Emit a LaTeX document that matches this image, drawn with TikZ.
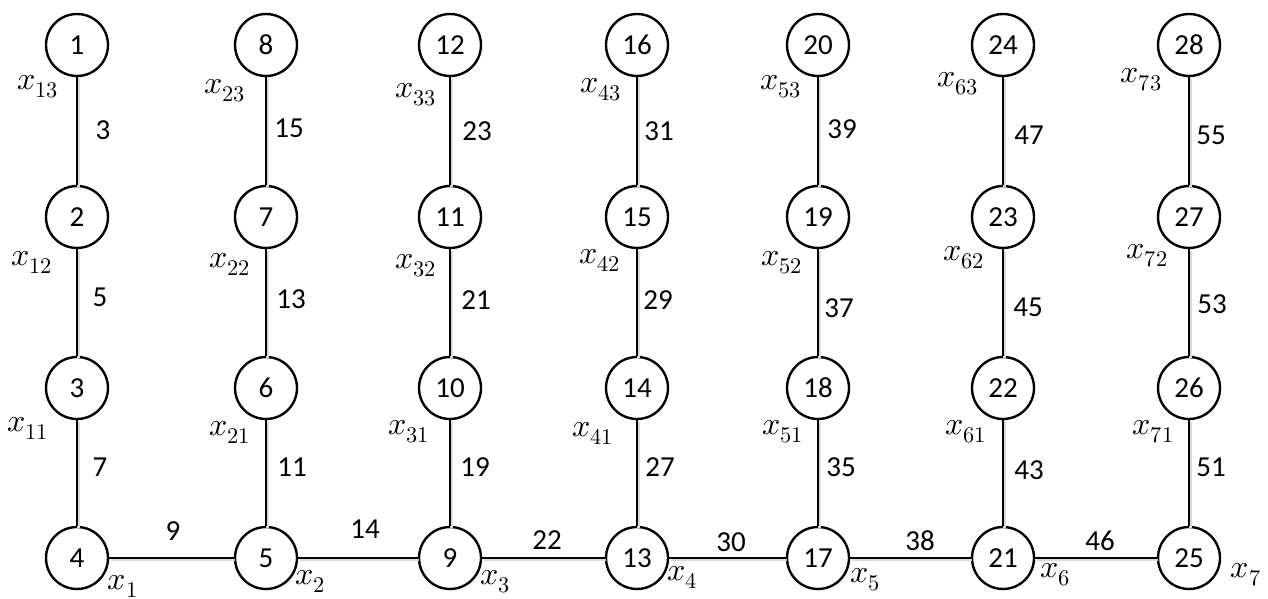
\documentclass[tikz,border=0pt]{standalone}
\usepackage{fontspec}
\usepackage{unicode-math}
\setmainfont{Carlito}
\setmathfont{Latin Modern Math}
\tikzset{
  vtx/.style={circle,draw=black,line width=2.4pt,minimum size=62pt,inner sep=0pt,fill=white,font=\fontsize{29}{34}\selectfont},
  wt/.style={font=\fontsize{29}{34}\selectfont,inner sep=0pt},
  vl/.style={font=\fontsize{32}{38}\selectfont,inner sep=0pt},
  edge/.style={draw=black,line width=2.4pt,preaction={draw=gray!30,line width=2.5pt,transform canvas={shift={(1.5pt,-1.8pt)}}}}
}
\begin{document}
\begin{tikzpicture}[x=1pt,y=-1pt]
\useasboundingbox (0,0) rectangle (1268,599);
% columns
\foreach \a/\b/\c/\d/\x in {1/2/3/4/77, 8/7/6/5/266, 12/11/10/9/450, 16/15/14/13/637, 20/19/18/17/818, 24/23/22/21/1003, 28/27/26/25/1189}{
  \node[vtx] (n\a) at (\x,45) {\a};
  \node[vtx] (n\b) at (\x,217) {\b};
  \node[vtx] (n\c) at (\x,388) {\c};
  \node[vtx] (n\d) at (\x,558) {\d};
}
% edges
\foreach \a/\b in {1/2,2/3,3/4, 8/7,7/6,6/5, 12/11,11/10,10/9, 16/15,15/14,14/13, 20/19,19/18,18/17, 24/23,23/22,22/21, 28/27,27/26,26/25, 4/5,5/9,9/13,13/17,17/21,21/25}{
  \draw[edge] (n\a) -- (n\b);
}
% weights (vertical edges)
\node[wt] (w3)  at (103,130) {3};
\node[wt] (w5)  at (100,297) {5};
\node[wt] (w7)  at (100,467) {7};
\node[wt] (w15) at (289,128) {15};
\node[wt] (w13) at (291,299) {13};
\node[wt] (w11) at (292,467) {11};
\node[wt] (w23) at (477,131) {23};
\node[wt] (w21) at (476,300) {21};
\node[wt] (w19) at (475,467) {19};
\node[wt] (w31) at (659,131) {31};
\node[wt] (w29) at (658,300) {29};
\node[wt] (w27) at (660,467) {27};
\node[wt] (w39) at (842,129) {39};
\node[wt] (w37) at (839,308) {37};
\node[wt] (w35) at (841,467) {35};
\node[wt] (w47) at (1029,135) {47};
\node[wt] (w45) at (1028,307) {45};
\node[wt] (w43) at (1029,470) {43};
\node[wt] (w55) at (1211,135) {55};
\node[wt] (w53) at (1212,304) {53};
\node[wt] (w51) at (1211,467) {51};
% weights (horizontal edges)
\node[wt] (w9)  at (173,531) {9};
\node[wt] (w14) at (365,529) {14};
\node[wt] (w22) at (547,540) {22};
\node[wt] (w30) at (731,542) {30};
\node[wt] (w38) at (920,541) {38};
\node[wt] (w46) at (1100,541) {46};
% variable labels
\node[vl] (x13) at (38,87) {$x_{13}$};
\node[vl] (x12) at (32,262) {$x_{12}$};
\node[vl] (x11) at (28,428) {$x_{11}$};
\node[vl] (x23) at (225,91) {$x_{23}$};
\node[vl] (x22) at (230,264) {$x_{22}$};
\node[vl] (x21) at (230,432) {$x_{21}$};
\node[vl] (x33) at (416,95) {$x_{33}$};
\node[vl] (x32) at (416,266) {$x_{32}$};
\node[vl] (x31) at (409,432) {$x_{31}$};
\node[vl] (x43) at (601,90) {$x_{43}$};
\node[vl] (x42) at (600,260) {$x_{42}$};
\node[vl] (x41) at (593,433) {$x_{41}$};
\node[vl] (x53) at (781,87) {$x_{53}$};
\node[vl] (x52) at (782,263) {$x_{52}$};
\node[vl] (x51) at (783,432) {$x_{51}$};
\node[vl] (x63) at (958,84) {$x_{63}$};
\node[vl] (x62) at (964,258) {$x_{62}$};
\node[vl] (x61) at (966,432) {$x_{61}$};
\node[vl] (x73) at (1141,80) {$x_{73}$};
\node[vl] (x72) at (1147,256) {$x_{72}$};
\node[vl] (x71) at (1153,432) {$x_{71}$};
\node[vl] (x1) at (123,586) {$x_{1}$};
\node[vl] (x2) at (310,581) {$x_{2}$};
\node[vl] (x3) at (495,582) {$x_{3}$};
\node[vl] (x4) at (682,577) {$x_{4}$};
\node[vl] (x5) at (865,580) {$x_{5}$};
\node[vl] (x6) at (1055,575) {$x_{6}$};
\node[vl] (x7) at (1246,575) {$x_{7}$};
\end{tikzpicture}
\end{document}
